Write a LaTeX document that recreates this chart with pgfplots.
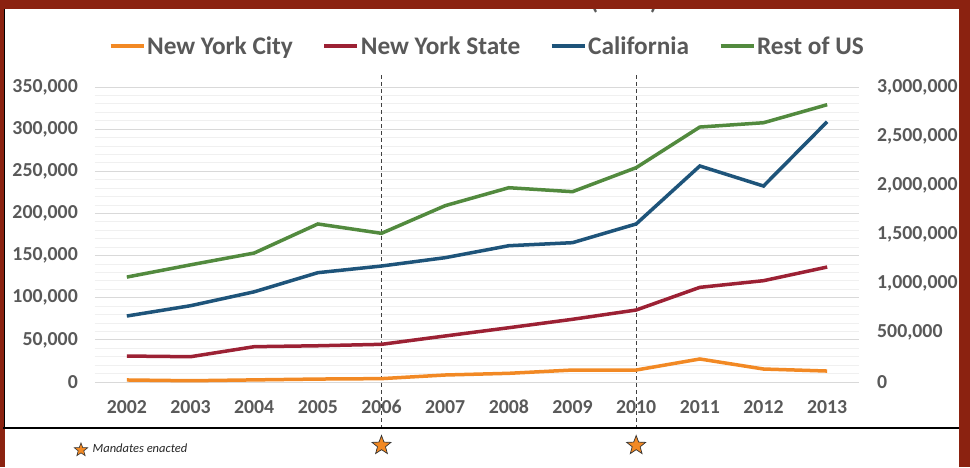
\documentclass[border=0pt]{standalone}
\usepackage{pgfplots}
\pgfplotsset{compat=1.18}
\usepackage{fontspec}
\setmainfont{Carlito}
\definecolor{frame}{RGB}{139,34,16}
\definecolor{nyc}{RGB}{242,137,36}
\definecolor{nys}{RGB}{156,33,52}
\definecolor{cal}{RGB}{30,84,122}
\definecolor{rus}{RGB}{82,138,62}
\definecolor{txt}{RGB}{89,89,89}
\definecolor{majg}{RGB}{217,217,217}
\definecolor{ming}{RGB}{240,240,240}
\definecolor{dashc}{RGB}{64,64,64}

\pgfdeclareplotmark{fstar}{%
  \pgfpathmoveto{\pgfpointpolar{90}{\pgfplotmarksize}}%
  \pgfpathlineto{\pgfpointpolar{126}{0.42\pgfplotmarksize}}%
  \pgfpathlineto{\pgfpointpolar{162}{\pgfplotmarksize}}%
  \pgfpathlineto{\pgfpointpolar{198}{0.42\pgfplotmarksize}}%
  \pgfpathlineto{\pgfpointpolar{234}{\pgfplotmarksize}}%
  \pgfpathlineto{\pgfpointpolar{270}{0.42\pgfplotmarksize}}%
  \pgfpathlineto{\pgfpointpolar{306}{\pgfplotmarksize}}%
  \pgfpathlineto{\pgfpointpolar{342}{0.42\pgfplotmarksize}}%
  \pgfpathlineto{\pgfpointpolar{18}{\pgfplotmarksize}}%
  \pgfpathlineto{\pgfpointpolar{54}{0.42\pgfplotmarksize}}%
  \pgfpathclose
  \pgfusepathqfillstroke}

\pgfplotstableread{
x nyc nys cal rus
0 2400 30800 78300 124500
1 1500 30000 90500 139000
2 2500 41900 107000 153000
3 3500 43000 129700 187500
4 4000 44700 137600 176400
5 8300 54600 147500 209200
6 10300 64400 161700 230500
7 14200 74400 165300 225800
8 14200 85400 187500 254300
9 27300 112300 256300 302500
10 15400 120200 232500 307600
11 13000 136400 308800 329000
}\datatable

\begin{document}
\begin{tikzpicture}
\useasboundingbox (0,0) rectangle (970pt,467pt);
\fill[frame] (0,0) rectangle (970pt,467pt);
\fill[white] (5pt,0) rectangle (959pt,458pt);
\node[anchor=base, font=\fontsize{24}{24}\selectfont\bfseries, text=txt, inner sep=0pt] at (624pt,457.5pt) {(\hspace{52pt})};
\fill[frame] (0,458pt) rectangle (970pt,467pt);
\draw[black, line width=1.3pt] (3pt,39pt) -- (959pt,39pt);
\draw[black, line width=1pt] (4.5pt,39pt) -- (4.5pt,458pt);

\begin{axis}[
  at={(95pt,85pt)}, anchor=south west, scale only axis,
  width=764pt, height=295pt,
  xmin=-0.5, xmax=11.5, ymin=0, ymax=350000,
  clip=false,
  axis line style={draw=none}, major tick style={draw=none}, minor tick style={draw=none},
  xtick={0,1,2,3,4,5,6,7,8,9,10,11},
  xticklabels={2002,2003,2004,2005,2006,2007,2008,2009,2010,2011,2012,2013},
  ytick={0,50000,100000,150000,200000,250000,300000,350000},
  minor y tick num=4,
  ymajorgrids, yminorgrids,
  major grid style={majg, line width=1pt},
  minor grid style={ming, line width=0.8pt},
  scaled y ticks=false,
  /pgf/number format/fixed,
  /pgf/number format/1000 sep={,},
  /pgf/number format/assume math mode=true,
  ticklabel style={font=\fontsize{19.8}{20}\selectfont\bfseries, text=txt, inner sep=0pt},
  xticklabel style={anchor=north, yshift=-18pt},
  yticklabel style={anchor=east, xshift=-17pt},
  legend style={at={(0.513,1.139)}, anchor=center, draw=none, fill=none,
    legend columns=4, font=\fontsize{25.3}{25.3}\selectfont\bfseries, text=txt,
    /tikz/every even column/.append style={column sep=28pt},
    nodes={inner xsep=1.5pt, inner ysep=0pt}},
  legend image code/.code={\draw[#1, line width=4pt] (0pt,0pt) -- (33pt,0pt);},
]
\addplot[dashc, line width=0.9pt, dash pattern=on 4pt off 3pt, forget plot] coordinates {(4,364200) (4,-53400)};
\addplot[dashc, line width=0.9pt, dash pattern=on 4pt off 3pt, forget plot] coordinates {(8,364200) (8,-53400)};
\addplot[nyc, line width=3.5pt] table[x=x, y=nyc] {\datatable};
\addlegendentry{New York City}
\addplot[nys, line width=3.5pt] table[x=x, y=nys] {\datatable};
\addlegendentry{New York State}
\addplot[cal, line width=3.5pt] table[x=x, y=cal] {\datatable};
\addlegendentry{California}
\addplot[rus, line width=3.5pt] table[x=x, y=rus] {\datatable};
\addlegendentry{Rest of US}
\addplot[only marks, mark=fstar, mark size=10pt, mark options={fill=nyc, draw=black!80, line width=0.7pt}, forget plot] coordinates {(4,-75300) (8,-75300)};
\addplot[only marks, mark=fstar, mark size=7pt, mark options={fill=nyc, draw=black!80, line width=0.6pt}, forget plot] coordinates {(-0.72,-80600)};
\node[anchor=west, font=\fontsize{12.5}{12.5}\selectfont\itshape, text=black!85, inner sep=0pt] at (axis cs:-0.54,-78300) {Mandates enacted};
\end{axis}

\begin{axis}[
  at={(95pt,85pt)}, anchor=south west, scale only axis,
  width=764pt, height=295pt,
  xmin=-0.5, xmax=11.5, ymin=0, ymax=3000000,
  hide x axis,
  axis y line*=right,
  axis line style={draw=none}, major tick style={draw=none},
  ytick={0,500000,1000000,1500000,2000000,2500000,3000000},
  scaled y ticks=false,
  /pgf/number format/fixed,
  /pgf/number format/1000 sep={,},
  /pgf/number format/assume math mode=true,
  yticklabel style={font=\fontsize{19.8}{20}\selectfont\bfseries, text=txt, inner sep=0pt, anchor=west, xshift=18pt},
]
\addplot[draw=none] coordinates {(0,0)};
\end{axis}
\end{tikzpicture}
\end{document}
